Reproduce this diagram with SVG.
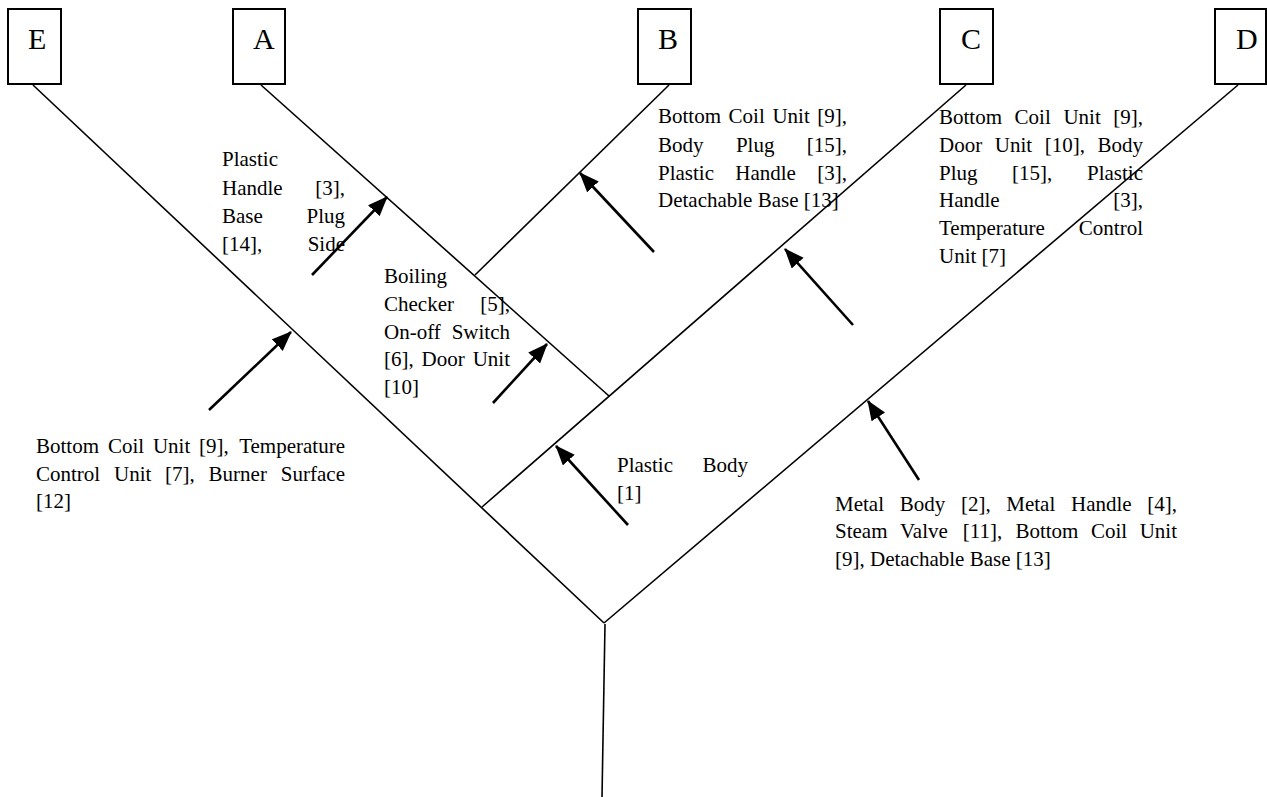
<svg xmlns="http://www.w3.org/2000/svg" width="1267" height="797" viewBox="0 0 1267 797">
<style>
.box{fill:#fff;stroke:#000;stroke-width:2}
.lt{font-family:"Liberation Serif","Times New Roman",serif;font-size:30px;fill:#000}
.t{font-family:"Liberation Serif","Times New Roman",serif;font-size:21px;fill:#000}
.e{text-anchor:end}
.br{fill:none;stroke:#000;stroke-width:1.6}
.ar{fill:none;stroke:#000;stroke-width:2.6;marker-end:url(#ah)}
</style>
<defs>
<marker id="ah" markerUnits="userSpaceOnUse" markerWidth="22" markerHeight="18" refX="19" refY="8" orient="auto">
<path d="M0,0 L20,8 L0,16 Z" fill="#000"/>
</marker>
</defs>
<rect width="1267" height="797" fill="#fff"/>
<g id="connectors">
<line class="br" x1="33" y1="85" x2="604" y2="623"/>
<line class="br" x1="261" y1="85" x2="609" y2="396"/>
<line class="br" x1="669" y1="85" x2="475" y2="275"/>
<line class="br" x1="966" y1="85" x2="482" y2="507"/>
<line class="br" x1="1238" y1="85" x2="604" y2="623"/>
<line class="br" x1="605" y1="624" x2="602" y2="797"/>
<line class="ar" x1="312" y1="275" x2="387" y2="197"/>
<line class="ar" x1="209" y1="410" x2="291" y2="332"/>
<line class="ar" x1="654" y1="252" x2="580" y2="173"/>
<line class="ar" x1="493" y1="403" x2="547" y2="344"/>
<line class="ar" x1="853" y1="325" x2="785" y2="249"/>
<line class="ar" x1="628" y1="525" x2="556" y2="446"/>
<line class="ar" x1="919" y1="480" x2="868" y2="401"/>
</g>
<g id="node-E"><rect class="box" x="8" y="9" width="53" height="75"/><text class="lt" x="28" y="49">E</text></g>
<g id="node-A"><rect class="box" x="233" y="9" width="52" height="75"/><text class="lt" x="253" y="49">A</text></g>
<g id="node-B"><rect class="box" x="638" y="9" width="53" height="75"/><text class="lt" x="658" y="49">B</text></g>
<g id="node-C"><rect class="box" x="940" y="9" width="53" height="75"/><text class="lt" x="961" y="49">C</text></g>
<g id="node-D"><rect class="box" x="1215" y="9" width="51" height="75"/><text class="lt" x="1236" y="49">D</text></g>
<g id="label-A">
<text class="t" x="222" y="166">Plastic</text>
<text class="t" x="222" y="195">Handle</text><text class="t e" x="345" y="195">[3],</text>
<text class="t" x="222" y="223">Base</text><text class="t e" x="345" y="223">Plug</text>
<text class="t" x="222" y="251">[14],</text><text class="t e" x="345" y="251">Side</text>
</g>
<g id="label-B">
<text class="t" y="123"><tspan x="658">Bottom</tspan><tspan x="728.6">Coil</tspan><tspan x="772.4">Unit</tspan></text><text class="t e" x="847" y="123">[9],</text>
<text class="t" y="152"><tspan x="658">Body</tspan><tspan x="735.9">Plug</tspan></text><text class="t e" x="847" y="152">[15],</text>
<text class="t" y="180"><tspan x="658">Plastic</tspan><tspan x="735.3">Handle</tspan></text><text class="t e" x="847" y="180">[3],</text>
<text class="t" x="658" y="207">Detachable Base [13]</text>
</g>
<g id="label-C">
<text class="t" y="124"><tspan x="939">Bottom</tspan><tspan x="1014.6">Coil</tspan><tspan x="1063.4">Unit</tspan></text><text class="t e" x="1143" y="124">[9],</text>
<text class="t" y="152"><tspan x="939">Door</tspan><tspan x="994.8">Unit</tspan><tspan x="1044.7">[10],</tspan></text><text class="t e" x="1143" y="152">Body</text>
<text class="t" y="180"><tspan x="939">Plug</tspan><tspan x="1012.1">[15],</tspan></text><text class="t e" x="1143" y="180">Plastic</text>
<text class="t" x="939" y="207">Handle</text><text class="t e" x="1143" y="207">[3],</text>
<text class="t" x="939" y="235">Temperature</text><text class="t e" x="1143" y="235">Control</text>
<text class="t" x="939" y="263">Unit [7]</text>
</g>
<g id="label-boiling">
<text class="t" x="384" y="283">Boiling</text>
<text class="t" x="384" y="311">Checker</text><text class="t e" x="510" y="311">[5],</text>
<text class="t" x="384" y="339">On-off</text><text class="t e" x="510" y="339">Switch</text>
<text class="t" y="366"><tspan x="384">[6],</tspan><tspan x="421.6">Door</tspan></text><text class="t e" x="510" y="366">Unit</text>
<text class="t" x="384" y="394">[10]</text>
</g>
<g id="label-E">
<text class="t" y="453"><tspan x="36">Bottom</tspan><tspan x="107.9">Coil</tspan><tspan x="152.9">Unit</tspan><tspan x="199.1">[9],</tspan></text><text class="t e" x="345" y="453">Temperature</text>
<text class="t" y="481"><tspan x="36">Control</tspan><tspan x="114">Unit</tspan><tspan x="165.1">[7],</tspan><tspan x="208.6">Burner</tspan></text><text class="t e" x="345" y="481">Surface</text>
<text class="t" x="36" y="508">[12]</text>
</g>
<g id="label-plastic-body">
<text class="t" x="617" y="472">Plastic</text><text class="t e" x="748" y="472">Body</text>
<text class="t" x="617" y="500">[1]</text>
</g>
<g id="label-D">
<text class="t" y="511"><tspan x="835">Metal</tspan><tspan x="899.7">Body</tspan><tspan x="960.9">[2],</tspan><tspan x="1006.3">Metal</tspan><tspan x="1071">Handle</tspan></text><text class="t e" x="1177" y="511">[4],</text>
<text class="t" y="538"><tspan x="835">Steam</tspan><tspan x="900">Valve</tspan><tspan x="962.7">[11],</tspan><tspan x="1015.4">Bottom</tspan><tspan x="1090.9">Coil</tspan></text><text class="t e" x="1177" y="538">Unit</text>
<text class="t" x="835" y="566">[9], Detachable Base [13]</text>
</g>
</svg>
